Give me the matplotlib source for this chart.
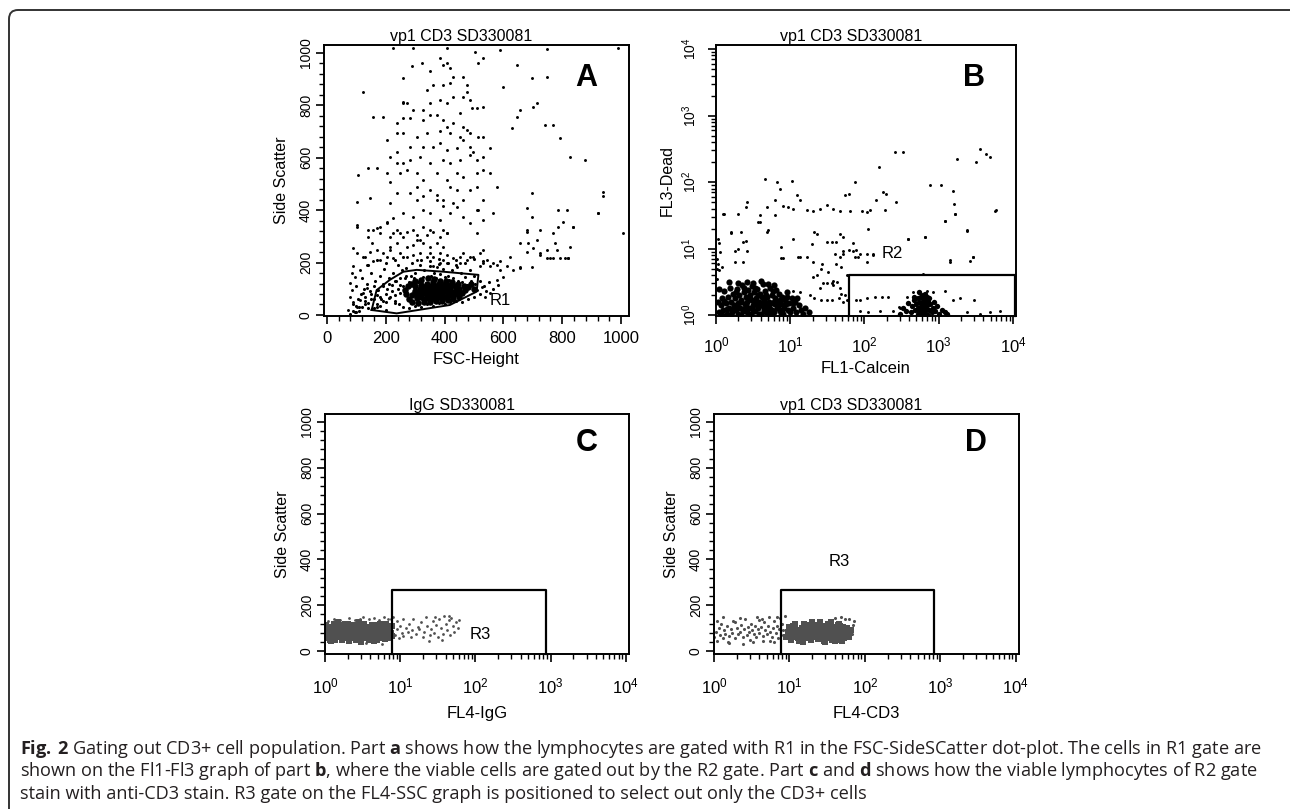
import matplotlib
matplotlib.use("Agg")
import matplotlib.pyplot as plt
from matplotlib.patches import FancyBboxPatch
from matplotlib.ticker import MultipleLocator
import matplotlib.transforms as mtransforms

plt.rcParams['font.family'] = ['Liberation Sans', 'DejaVu Sans']
plt.rcParams['mathtext.fontset'] = 'custom'
plt.rcParams['mathtext.rm'] = 'Open Sans'
plt.rcParams['mathtext.bf'] = 'Open Sans:bold'

# ---------------- data ----------------
titles = ['vp1 CD3 SD330081', 'vp1 CD3 SD330081', 'IgG SD330081', 'vp1 CD3 SD330081']
letters = ['A', 'B', 'C', 'D']
xlabels = ['FSC-Height', 'FL1-Calcein', 'FL4-IgG', 'FL4-CD3']
ylabels = ['Side Scatter', 'FL3-Dead', 'Side Scatter', 'Side Scatter']
lin_ticks = [0, 200, 400, 600, 800, 1000]
log_ticks = [1, 10, 100, 1000, 10000]

# panel A: FSC vs SSC
a_sparse = [
    (123, 852), (158, 757), (192, 757), (107, 534), (141, 560), (169, 560), (101, 432), (146, 445),
    (101, 337), (141, 324), (90, 254), (129, 223), (169, 331), (203, 350), (226, 369), (203, 541),
    (214, 509), (237, 623), (260, 814), (288, 948), (322, 960), (350, 929), (384, 979), (396, 954),
    (407, 960), (418, 941), (430, 909), (464, 909), (475, 878), (503, 1005), (515, 960), (532, 979),
    (260, 903), (339, 859), (362, 878), (396, 878), (418, 884), (464, 833), (475, 852), (486, 820),
    (492, 789), (509, 789), (532, 795), (260, 808), (271, 808), (294, 782), (328, 782), (350, 808),
    (384, 820), (407, 808), (430, 833), (452, 770), (237, 731), (260, 750), (282, 750), (328, 744),
    (350, 763), (373, 763), (396, 744), (407, 719), (430, 731), (464, 719), (475, 706), (486, 693),
    (515, 680), (532, 680), (237, 693), (260, 693), (305, 680), (339, 693), (384, 700), (418, 693),
    (452, 680), (282, 642), (328, 642), (362, 642), (384, 655), (407, 630), (441, 636), (464, 668),
    (486, 642), (498, 623), (237, 579), (260, 579), (282, 591), (316, 604), (350, 579), (396, 591),
    (418, 579), (452, 591), (486, 610), (509, 591), (532, 604), (554, 636), (248, 541), (271, 553),
    (305, 541), (328, 515), (373, 541), (407, 515), (441, 541), (464, 528), (509, 541), (532, 553),
    (554, 541), (237, 464), (282, 464), (305, 439), (328, 452), (350, 477), (373, 458), (396, 439),
    (441, 477), (464, 439), (486, 477), (509, 490), (532, 439), (214, 426), (260, 388), (294, 375),
    (328, 401), (350, 388), (384, 362), (418, 388), (441, 413), (464, 375), (486, 350), (515, 401),
    (532, 362), (566, 388), (577, 490), (203, 668), (214, 604), (350, 235), (396, 261), (407, 312),
    (464, 235), (486, 223), (532, 248), (509, 312), (373, 184), (305, 210), (214, 261), (226, 312),
    (305, 286), (328, 337), (396, 210), (441, 184), (350, 324), (418, 490), (373, 439), (305, 490),
    (588, 1011), (645, 954), (600, 871), (656, 782), (645, 757), (628, 712), (702, 795), (713, 808),
    (696, 903), (747, 909), (741, 725), (770, 725), (792, 674), (826, 604), (877, 591), (940, 471),
    (940, 452), (923, 388), (1008, 312), (815, 401), (838, 337), (787, 337), (696, 464), (696, 375),
    (679, 324), (713, 286), (724, 229), (747, 216), (770, 216), (775, 273), (821, 216), (696, 184),
    (656, 184), (622, 223), (747, 1015), (991, 1020), (226, 1020), (294, 1020), (407, 1020),
    (103, 344), (157, 324), (180, 337), (203, 356), (140, 299), (152, 274), (180, 312), (214, 299),
    (237, 324), (248, 312), (260, 299), (271, 318), (294, 324), (305, 305), (316, 286), (339, 305),
    (362, 318), (384, 299), (407, 312), (396, 324), (373, 274), (350, 261), (328, 274), (294, 267),
    (271, 261), (237, 274), (214, 248), (191, 235), (169, 248), (146, 242), (123, 223), (101, 235),
    (89, 185), (84, 159), (95, 146), (78, 121), (112, 172), (135, 191), (157, 204), (180, 210),
    (203, 223), (225, 216), (248, 235), (271, 223), (294, 229), (316, 235), (339, 223), (362, 223),
    (384, 235), (407, 229), (430, 216), (452, 223), (475, 210), (498, 223), (520, 235), (543, 210),
    (566, 197), (588, 204), (611, 185), (634, 172), (656, 178), (679, 242), (702, 255), (724, 235),
    (747, 248), (781, 248), (809, 216), (826, 261), (384, 197), (362, 185), (407, 197), (452, 197),
    (520, 185), (532, 197), (554, 185), (577, 191), (588, 172), (526, 108), (509, 96), (537, 70),
    (554, 83), (577, 134), (600, 146), (78, 70), (85, 96), (89, 51), (112, 57), (123, 83), (135, 102),
    (101, 32), (72, 19), (679, 407), (787, 401), (804, 356), (838, 337), (923, 388), (770, 312),
    (724, 324), (679, 318), (758, 216), (792, 216), (821, 216), (685, 274), (656, 274), (509, 401),
    (430, 426), (396, 414),
]
a_mid = [
    (120, 140), (135, 120), (150, 160), (165, 130), (180, 150), (195, 175), (210, 140), (225, 160),
    (240, 190), (255, 170), (270, 180), (285, 150), (300, 160), (315, 190), (330, 170), (350, 185),
    (365, 160), (380, 195), (395, 175), (410, 150), (425, 170), (440, 190), (455, 160), (470, 145),
    (485, 170), (500, 150), (520, 130), (535, 110), (550, 125), (565, 100), (580, 115), (160, 110),
    (175, 95), (190, 120), (205, 100), (220, 115), (235, 130), (250, 115), (265, 140), (280, 125),
    (295, 140), (310, 125), (325, 145), (340, 140), (355, 150), (370, 140), (385, 155), (400, 145),
    (415, 135), (430, 140), (445, 130), (460, 125), (475, 115), (490, 130), (505, 120), (150, 60),
    (170, 75), (185, 60), (200, 50), (215, 70), (230, 55), (245, 40), (260, 30), (280, 25), (300, 35),
    (320, 30), (340, 40), (360, 35), (380, 45), (400, 40), (420, 50), (440, 55), (460, 50), (480, 60),
    (500, 70), (520, 80), (540, 90), (200, 20), (180, 35), (160, 25), (140, 45), (120, 30), (110, 15),
    (95, 10), (130, 55), (145, 90), (115, 80), (125, 100), (105, 60), (90, 40), (100, 110), (140, 190),
    (170, 210), (200, 200), (230, 210), (260, 220), (290, 200), (320, 210), (350, 205), (380, 215),
    (410, 200), (440, 210), (470, 200), (500, 215), (530, 205), (80, 5), (90, 15), (100, 10),
    (110, 30), (130, 40), (100, 35), (140, 25), (160, 60), (170, 40), (180, 70), (190, 55), (200, 80),
    (210, 65), (220, 90), (230, 75), (240, 100), (250, 85), (260, 110), (150, 80), (130, 70),
    (170, 95), (190, 110), (210, 120), (230, 130), (250, 140), (270, 150), (170, 30), (230, 45),
]
a_dense = [
    (280, 60), (290, 75), (300, 90), (305, 65), (310, 80), (315, 100), (320, 70), (325, 88), (330, 60),
    (335, 95), (340, 75), (345, 105), (350, 85), (355, 65), (360, 95), (365, 78), (370, 110), (375, 88),
    (380, 70), (385, 100), (390, 80), (395, 92), (400, 68), (405, 105), (410, 85), (415, 75), (420, 98),
    (425, 88), (430, 72), (435, 110), (440, 90), (445, 80), (450, 100), (300, 110), (320, 115),
    (340, 120), (360, 125), (380, 120), (400, 118), (420, 115), (290, 50), (310, 45), (330, 50),
    (350, 48), (370, 55), (390, 52), (410, 58), (430, 60), (450, 70), (460, 85), (470, 95), (270, 80),
    (265, 95), (275, 110), (285, 120), (300, 130), (320, 135), (345, 140), (365, 138), (385, 130),
    (405, 128), (425, 125), (445, 118), (465, 110), (480, 105), (490, 120), (500, 100), (330, 105),
    (355, 110), (375, 98), (395, 110), (415, 95), (335, 82), (357, 92), (372, 72), (388, 92),
    (342, 64), (366, 62), (392, 66), (408, 92), (322, 92), (312, 72), (298, 82), (352, 78), (382, 82),
    (412, 80), (432, 84), (442, 98), (362, 102), (346, 92),
]
# R1 gate polygon
r1_x = [152, 169, 214, 260, 305, 396, 515, 509, 418, 237, 152]
r1_y = [19, 95, 134, 165, 172, 165, 153, 89, 38, 6, 19]

# panel B: FL1 vs FL3 (log)
b_sparse = [
    (3600, 316), (4400, 265), (4900, 240), (3200, 200), (1780, 224), (5900, 38), (257, 282), (331, 288),
    (158, 166), (760, 89), (1070, 89), (1580, 73), (1620, 47), (1660, 33), (1210, 26), (2380, 19),
    (2940, 7.5), (1420, 6.7), (650, 15), (390, 14), (265, 50), (198, 66), (178, 71), (142, 53),
    (190, 38), (118, 38), (107, 35), (92, 37), (74, 100), (61, 66), (55, 63), (63, 37), (47, 37),
    (38, 40), (31, 45), (25, 40), (20, 37), (17, 38), (13.5, 53), (12.3, 63), (10.5, 105), (6.6, 100),
    (4.6, 112), (7.2, 79), (6.2, 53), (8.1, 43), (9.4, 42), (11, 40), (4.8, 42), (2.6, 50), (2.5, 42),
    (2.0, 33), (1.3, 33), (3.9, 25), (5.0, 19), (2.2, 18), (1.6, 17), (2.5, 13), (2.0, 10), (1.8, 6.3),
    (2.3, 6.3), (7.6, 10.5), (7.9, 7.1), (11, 14), (12.9, 7.5), (17, 7.5), (19.5, 11.8), (23, 16.7),
    (31, 12.6), (36, 12.6), (42, 12.6), (47, 16.7), (51, 15), (71, 12), (83, 7.5), (87, 8.4),
    (107, 6.3), (47, 7.5), (51, 8.4), (61, 9.4), (78, 9.4), (27, 5.9), (42, 5.9), (49, 5.3),
    (132, 7.9), (38, 2.8), (31, 3.0), (20, 3.8), (25, 2.6), (47, 2.6), (1.1, 12), (1.07, 5.9),
    (1.1, 4.7), (1.2, 5.3), (1.26, 33), (3.9, 32), (6.2, 32), (4.8, 18), (3.7, 25), (1.6, 18),
    (2.3, 12.6), (1.8, 9.3), (2.6, 9.3), (1.12, 8.9), (7.6, 7.1), (13.5, 7.4), (21, 18), (40, 8.3),
    (51, 9.3), (71, 9.3), (74, 7.4), (112, 20), (107, 8.3), (132, 8.3), (389, 14), (646, 15),
    (1200, 26), (1410, 6.3), (2630, 6.6), (2880, 7.4), (2400, 18.6), (1660, 33), (5750, 37),
    (20, 6.3), (26, 5.0), (32, 4.5), (38, 3.3), (28, 3.0), (36, 3.0), (43, 3.2), (23, 4.0),
    (11, 2.3), (13.5, 2.2), (18.6, 2.0), (21, 1.8), (26, 1.66), (31, 1.66), (36, 1.66), (45, 1.8),
    (51, 1.6), (58, 1.66), (49, 2.1), (55, 2.0), (58, 4.0), (78, 1.66), (87, 1.66), (107, 1.8),
    (138, 1.86), (170, 1.86), (209, 1.86), (87, 1.17), (112, 1.12), (162, 1.17), (372, 1.86),
    (457, 2.2), (562, 2.1), (692, 2.3), (851, 2.2), (1200, 2.3), (1580, 1.66), (1950, 1.8),
    (2950, 1.66), (2400, 1.12), (3630, 1.05), (4900, 1.12), (6600, 1.17), (302, 1.26), (245, 1.17),
    (617, 4.2), (288, 1.32), (1.02, 5.0), (1.03, 3.5), (1.02, 7.0), (1.05, 13.8),
]
b_left = [
    (1.1, 1.1), (1.15, 1.4), (1.2, 1.8), (1.25, 1.2), (1.3, 2.3), (1.35, 1.5), (1.4, 1.05), (1.45, 1.9),
    (1.5, 1.3), (1.55, 2.6), (1.6, 1.6), (1.65, 1.1), (1.7, 2.1), (1.75, 1.4), (1.8, 1.8), (1.85, 1.2),
    (1.9, 2.5), (1.95, 1.5), (2.0, 1.05), (2.05, 2.0), (2.1, 1.3), (2.2, 1.7), (2.25, 2.8), (2.3, 1.15),
    (2.4, 2.2), (2.45, 1.45), (2.5, 1.9), (2.6, 1.1), (2.65, 1.6), (2.7, 2.4), (2.8, 1.3), (2.9, 2.0),
    (3.0, 1.05), (3.05, 1.7), (3.1, 2.7), (3.2, 1.4), (3.3, 2.2), (3.4, 1.15), (3.5, 1.8), (3.6, 2.5),
    (3.7, 1.3), (3.8, 1.6), (3.9, 2.1), (4.0, 1.05), (4.1, 1.45), (4.2, 1.9), (4.3, 2.9), (4.4, 1.2),
    (4.5, 1.7), (4.6, 2.3), (4.8, 1.35), (4.9, 1.9), (5.0, 1.1), (5.2, 1.6), (5.3, 2.6), (5.4, 1.25),
    (5.6, 2.0), (5.8, 1.5), (6.0, 1.1), (6.2, 1.8), (6.4, 2.4), (6.6, 1.3), (6.8, 1.6), (7.0, 2.1),
    (7.2, 1.15), (7.5, 1.45), (7.8, 1.9), (8.0, 1.05), (8.3, 1.3), (8.6, 1.7), (9.0, 2.2), (9.3, 1.2),
    (9.6, 1.5), (10, 1.1), (10.5, 1.8), (11, 1.3), (11.5, 1.6), (12, 1.1), (13, 1.4), (14, 1.2),
    (15, 1.05), (1.2, 1.0), (1.6, 1.0), (2.2, 1.0), (3.0, 1.0), (4.0, 1.0), (5.5, 1.0), (7.5, 1.0),
    (1.4, 1.25), (1.9, 1.35), (2.35, 1.25), (2.85, 1.75), (3.35, 1.55), (3.75, 1.05), (4.25, 1.35),
    (4.75, 1.1), (5.1, 1.4), (5.7, 1.2), (6.3, 1.45), (2.0, 3.0), (2.6, 3.2), (3.2, 3.0), (1.5, 3.1),
    (4.0, 3.3), (5.0, 2.9), (6.0, 2.8), (1.1, 2.5), (1.05, 1.6), (9.0, 1.9), (12.5, 1.8), (16, 1.3),
    (18, 1.1), (1.3, 1.65), (1.7, 1.25), (2.15, 1.55), (2.55, 1.35), (3.15, 1.2), (3.55, 1.4),
    (4.45, 1.55), (5.25, 1.2), (6.1, 1.6), (6.9, 1.35), (7.7, 1.2), (8.8, 1.45), (10.8, 1.5),
    (1.85, 2.2), (2.75, 1.9), (3.65, 2.0), (4.65, 2.0), (5.9, 2.3), (7.3, 1.7), (2.4, 2.6), (3.4, 2.6),
]
b_right = [
    (300, 1.05), (330, 1.3), (360, 1.15), (390, 1.5), (420, 1.1), (440, 1.35), (460, 1.7), (480, 1.2),
    (500, 1.45), (520, 1.05), (540, 1.6), (560, 1.3), (580, 1.9), (600, 1.15), (620, 1.5), (640, 1.75),
    (660, 1.25), (680, 1.05), (700, 1.4), (720, 1.65), (740, 1.2), (770, 1.45), (800, 1.1), (830, 1.3),
    (860, 1.55), (900, 1.15), (950, 1.35), (1000, 1.05), (1100, 1.2), (1200, 1.1), (1300, 1.05),
    (550, 1.15), (610, 1.35), (650, 1.55), (590, 1.6), (530, 1.3), (690, 1.25), (630, 1.1), (570, 1.45),
    (610, 2.0), (660, 2.1), (550, 2.2), (700, 1.9), (470, 1.9), (750, 1.8), (520, 1.8), (640, 1.0),
    (720, 1.0), (580, 1.0),
]
# R2 gate (x0, x1, y_top)
r2_gate = (62, 10800, 4.0)

# panel C: FL4-IgG vs SSC
c_dense = [
    (1.05, 55), (1.1, 80), (1.12, 105), (1.2, 65), (1.25, 95), (1.3, 118), (1.35, 50), (1.4, 75),
    (1.45, 100), (1.5, 60), (1.55, 88), (1.6, 112), (1.7, 48), (1.75, 70), (1.8, 95), (1.85, 120),
    (1.9, 58), (2.0, 82), (2.05, 105), (2.1, 45), (2.2, 68), (2.3, 92), (2.35, 115), (2.4, 55),
    (2.5, 78), (2.6, 100), (2.7, 62), (2.8, 88), (2.9, 110), (3.0, 50), (3.1, 72), (3.2, 96),
    (3.3, 120), (3.45, 58), (3.6, 84), (3.7, 106), (3.85, 48), (4.0, 70), (4.1, 92), (4.25, 115),
    (4.4, 60), (4.6, 80), (4.7, 102), (4.9, 50), (5.0, 74), (5.2, 95), (5.4, 118), (5.6, 62),
    (5.8, 86), (6.0, 108), (6.2, 52), (6.4, 76), (6.6, 98), (6.8, 66), (7.0, 88), (7.2, 110),
    (7.4, 58), (7.6, 80), (1.08, 70), (1.3, 90), (1.6, 78), (1.95, 100), (2.25, 85), (2.75, 75),
    (3.4, 88), (4.2, 82), (5.1, 85), (6.1, 90), (7.1, 70), (2.5, 110), (3.8, 100), (5.5, 100),
    (1.2, 42), (2.0, 120), (3.0, 40), (4.5, 45), (6.5, 118), (1.5, 125), (2.8, 125),
    (1.02, 90), (1.02, 115), (1.15, 50), (1.65, 98), (2.15, 90), (2.6, 48), (3.25, 110), (3.55, 65),
    (4.35, 100), (4.85, 115), (5.3, 55), (5.9, 70), (6.7, 85), (7.3, 95), (7.7, 65), (7.8, 110),
]
c_sparse = [
    (8.5, 70), (9, 95), (9.5, 55), (10, 110), (10.5, 80), (11, 65), (12, 100), (12.5, 85), (13, 120),
    (14, 60), (14.5, 90), (15, 140), (16, 75), (17, 105), (18, 95), (19, 125), (20, 60), (21, 85),
    (22, 150), (23, 110), (25, 70), (26, 95), (27, 130), (28, 80), (30, 115), (32, 60), (33, 140),
    (35, 100), (37, 75), (38, 155), (40, 120), (42, 90), (44, 135), (46, 70), (48, 145), (50, 110),
    (52, 85), (55, 125), (58, 100), (60, 135), (45, 155), (36, 50), (24, 45), (29, 150), (9, 130),
    (11, 140), (8, 150), (1.3, 140), (1.6, 135), (2.1, 145), (2.5, 135), (3.2, 150), (3.8, 138),
    (4.5, 145), (5.3, 135), (6.0, 150), (6.8, 140), (1.1, 132), (2.9, 140), (5.8, 30), (3.5, 35),
    (7.5, 140),
]

# panel D: FL4-CD3 vs SSC
d_dense = [
    (9, 60), (9.5, 85), (10, 105), (10.5, 50), (11, 75), (11.5, 95), (12, 118), (12.5, 62), (13, 88),
    (13.5, 45), (14, 70), (14.5, 100), (15, 80), (15.5, 120), (16, 55), (17, 92), (17.5, 68), (18, 110),
    (19, 48), (19.5, 82), (20, 100), (21, 60), (22, 90), (22.5, 115), (23, 72), (24, 52), (25, 98),
    (26, 80), (27, 64), (28, 108), (29, 45), (30, 88), (31, 72), (32, 118), (33, 58), (34, 95),
    (35, 78), (36, 105), (37, 50), (38, 85), (39, 68), (40, 100), (42, 60), (43, 82), (44, 112),
    (45, 72), (46, 48), (47, 92), (48, 65), (50, 85), (51, 105), (52, 55), (53, 75), (55, 95),
    (56, 62), (57, 80), (59, 70), (60, 88), (62, 60), (64, 80), (10, 70), (12, 80), (14, 90), (16, 75),
    (18, 85), (20, 70), (23, 95), (26, 60), (28, 85), (31, 95), (34, 70), (37, 105), (41, 80),
    (44, 95), (49, 75), (54, 85), (58, 100), (25, 125), (35, 125), (45, 120), (20, 128), (15, 40),
    (30, 38), (40, 42), (50, 45), (11, 110), (13, 55), (17, 115), (21, 80), (24, 108), (27, 90),
    (33, 110), (39, 55), (47, 108), (52, 95), (61, 75), (66, 90),
]
d_sparse = [
    (1.0, 60), (1.05, 85), (1.1, 45), (1.15, 100), (1.2, 70), (1.25, 120), (1.3, 55), (1.35, 90),
    (1.4, 75), (1.5, 110), (1.55, 40), (1.6, 65), (1.7, 95), (1.75, 80), (1.8, 130), (1.9, 55),
    (2.0, 100), (2.1, 75), (2.2, 85), (2.3, 115), (2.4, 60), (2.5, 95), (2.6, 140), (2.7, 70),
    (2.8, 105), (2.9, 85), (3.0, 50), (3.1, 120), (3.2, 90), (3.4, 75), (3.5, 110), (3.6, 60),
    (3.8, 95), (3.9, 135), (4.0, 80), (4.2, 105), (4.4, 65), (4.6, 125), (4.8, 90), (5.0, 75),
    (5.2, 110), (5.4, 150), (5.6, 85), (5.8, 60), (6.0, 100), (6.3, 130), (6.6, 80), (6.9, 110),
    (7.2, 95), (7.5, 145), (7.8, 70), (8.0, 120), (8.3, 90), (8.6, 155), (1.3, 150), (2.2, 145),
    (1.6, 35), (3.3, 40), (4.5, 45), (6.2, 40), (7.0, 55), (1.9, 125), (4.3, 140), (5.5, 45),
    (2.4, 30), (6.8, 150), (1.1, 130), (3.7, 150), (8.8, 60), (65, 100), (70, 115), (68, 75),
    (72, 130), (62, 140), (55, 140), (48, 150), (40, 145),
]
# R3 gate (x0, x1, y_top) for C and D
r3_gate_c = (7.8, 870, 265)
r3_gate_d = (7.8, 830, 265)

caption_lines = [
    r"$\mathbf{Fig.\,2}$ Gating out CD3+ cell population. Part $\mathbf{a}$ shows how the lymphocytes are gated with R1 in the FSC-SideSCatter dot-plot. The cells in R1 gate are",
    r"shown on the Fl1-Fl3 graph of part $\mathbf{b}$, where the viable cells are gated out by the R2 gate. Part $\mathbf{c}$ and $\mathbf{d}$ shows how the viable lymphocytes of R2 gate",
    r"stain with anti-CD3 stain. R3 gate on the FL4-SSC graph is positioned to select out only the CD3+ cells",
]

# ---------------- figure ----------------
W, H = 1290, 809
fig = plt.figure(figsize=(W / 100, H / 100), dpi=100)


def px_axes(left, top, right, bottom):
    return fig.add_axes([left / W, 1 - bottom / H, (right - left) / W, (bottom - top) / H])


axA = px_axes(324, 45, 629, 316)
axB = px_axes(716, 45, 1016, 316)
axC = px_axes(325, 414, 629, 654)
axD = px_axes(714, 414, 1019, 654)
axes = [axA, axB, axC, axD]


def scatter(ax, pts, size, color, marker='o'):
    xs = [p[0] for p in pts]
    ys = [p[1] for p in pts]
    ax.scatter(xs, ys, s=size, c=color, marker=marker, linewidths=0, zorder=2)


grey = '#505050'
scatter(axA, a_sparse, 4.5, 'black')
scatter(axA, a_mid, 5, 'black')
scatter(axA, a_dense, 22, 'black')
axA.plot(r1_x, r1_y, color='black', lw=1.4, zorder=3)
axA.text(588, 57, 'R1', fontsize=12, ha='center', va='center')

scatter(axB, b_sparse, 4.5, 'black')
scatter(axB, b_left, 20, 'black')
scatter(axB, b_right, 15, 'black')
x0, x1, yt = r2_gate
axB.plot([x0, x0, x1, x1], [0.97, yt, yt, 0.97], color='black', lw=1.6, zorder=3, clip_on=False)
axB.text(240, 8.5, 'R2', fontsize=12, ha='center', va='center')

scatter(axC, c_dense, 20, grey, 's')
scatter(axC, c_sparse, 4, grey)
x0, x1, yt = r3_gate_c
axC.plot([x0, x0, x1, x1], [-13, yt, yt, -13], color='black', lw=1.6, zorder=3, clip_on=False)
axC.text(117, 74, 'R3', fontsize=12, ha='center', va='center')

scatter(axD, d_dense, 20, grey, 's')
scatter(axD, d_sparse, 5, grey)
x0, x1, yt = r3_gate_d
axD.plot([x0, x0, x1, x1], [-13, yt, yt, -13], color='black', lw=1.6, zorder=3, clip_on=False)
axD.text(45, 390, 'R3', fontsize=12, ha='center', va='center')

# axes styling
axA.set_xlim(-10, 1027)
axA.set_ylim(-4, 1030)
axA.set_xticks(lin_ticks)
axA.set_yticks(lin_ticks)
axA.xaxis.set_minor_locator(MultipleLocator(40))
axA.yaxis.set_minor_locator(MultipleLocator(40))

axB.set_xscale('log')
axB.set_yscale('log')
axB.set_xlim(1, 1.1e4)
axB.set_ylim(0.97, 1.15e4)
axB.set_xticks(log_ticks)
axB.set_yticks(log_ticks)

for ax in (axC, axD):
    ax.set_xscale('log')
    ax.set_xlim(1, 1.1e4)
    ax.set_ylim(-13, 1035)
    ax.set_xticks(log_ticks)
    ax.set_yticks(lin_ticks)
    ax.yaxis.set_minor_locator(MultipleLocator(40))

for i, ax in enumerate(axes):
    for sp in ax.spines.values():
        sp.set_linewidth(1.4)
    ax.tick_params(which='major', direction='out', length=6, width=1.2, labelsize=12, pad=5)
    ax.tick_params(which='minor', direction='out', length=3.5, width=1.0)
    ax.tick_params(axis='y', which='major', labelsize=10, pad=2)
    for lab in ax.get_yticklabels():
        lab.set_rotation(90)
        lab.set_va('center')
    ax.set_title(titles[i], x=0.45, fontsize=11.5, pad=3)
    ax.set_xlabel(xlabels[i], fontsize=12, labelpad=4)
    ax.set_ylabel(ylabels[i], fontsize=11.5, labelpad=7)
    ax.text(0.86, 0.88, letters[i], transform=ax.transAxes, fontsize=22,
            fontweight='bold', ha='center', va='center')

# log axes carry taller labels further from the spine
axB.tick_params(axis='x', which='major', pad=8)
axB.tick_params(axis='y', which='major', pad=6)
axB.yaxis.labelpad = 4
for ax in (axC, axD):
    ax.tick_params(axis='x', which='major', pad=10)
    ax.xaxis.labelpad = 7

# frame around the figure (open at right and bottom edges)
frame = FancyBboxPatch((9, -30), 1310, 829, boxstyle='round,pad=0,rounding_size=9',
                       transform=mtransforms.IdentityTransform(), fill=False,
                       edgecolor='#333333', linewidth=1.4)
fig.patches.append(frame)

for k, line in enumerate(caption_lines):
    fig.text(20 / W, 1 - (749 + 22.5 * k) / H, line, fontsize=13.1, family='Open Sans',
             ha='left', va='center', color='#231f20')

fig.savefig('out.png', dpi=100)
